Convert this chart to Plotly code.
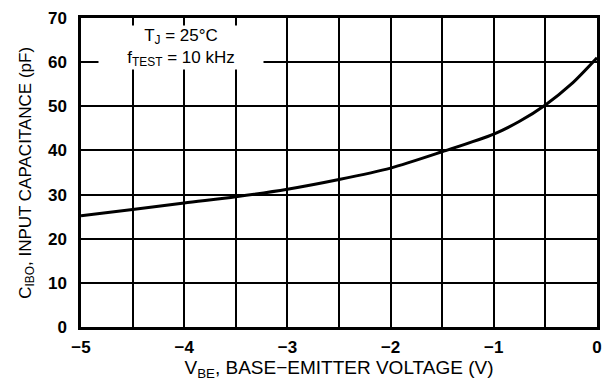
import plotly.graph_objects as go

# Data
vbe = [-5.0, -4.5, -4.0, -3.5, -3.0, -2.5, -2.0, -1.5, -1.0, -0.75, -0.5, -0.25, 0.0]
cibo = [25.2, 26.6, 28.1, 29.5, 31.2, 33.4, 36.0, 39.7, 43.7, 46.6, 50.3, 55.0, 61.0]

x_ticks = [-5, -4, -3, -2, -1, 0]
x_tick_text = ["\u22125", "\u22124", "\u22123", "\u22122", "\u22121", "0"]
y_ticks = [0, 10, 20, 30, 40, 50, 60, 70]

FONT = "Liberation Sans, Arial, sans-serif"

fig = go.Figure()
fig.add_trace(go.Scatter(x=vbe, y=cibo, mode="lines",
                         line=dict(color="black", width=3, shape="spline", smoothing=0.8),
                         hoverinfo="skip", showlegend=False))

fig.update_layout(
    width=608, height=381,
    margin=dict(l=81, r=11, t=18, b=54, autoexpand=False),
    paper_bgcolor="white", plot_bgcolor="white",
    font=dict(family=FONT, color="black"),
    xaxis=dict(
        range=[-5, 0], tickmode="array", tickvals=x_ticks, ticktext=x_tick_text,
        tickfont=dict(size=17, family=FONT, weight="bold"),
        showgrid=True, gridcolor="black", gridwidth=2,
        minor=dict(dtick=0.5, showgrid=True, gridcolor="black", gridwidth=2),
        showline=True, linecolor="black", linewidth=2.5, mirror=True,
        ticks="", zeroline=False, ticklabelstandoff=3, automargin=False,
        title=dict(text="V<sub>BE</sub>, BASE\u2212EMITTER VOLTAGE (V)",
                   font=dict(size=19, family=FONT), standoff=5),
    ),
    yaxis=dict(
        range=[0, 70], tickmode="array", tickvals=y_ticks,
        tickfont=dict(size=17, family=FONT, weight="bold"),
        showgrid=True, gridcolor="black", gridwidth=2,
        showline=True, linecolor="black", linewidth=2.5, mirror=True,
        ticks="", zeroline=False, ticklabelstandoff=8, automargin=False,
    ),
)

# y-axis title placed explicitly
fig.add_annotation(
    x=-0.106, y=0.5, xref="paper", yref="paper",
    text="C<sub>IBO</sub>, INPUT CAPACITANCE (pF)", textangle=-90,
    showarrow=False, xanchor="center", yanchor="middle",
    font=dict(size=17, family=FONT, color="black"),
)

fig.add_annotation(
    x=-4.03, y=63.4, xref="x", yref="y",
    text="T<sub>J</sub> = 25\u00b0C<br>f<sub>TEST</sub> = 10 kHz",
    showarrow=False, bgcolor="white", width=162, height=41,
    font=dict(size=17, family=FONT, color="black"), align="center",
)

fig.write_html("out.html")
